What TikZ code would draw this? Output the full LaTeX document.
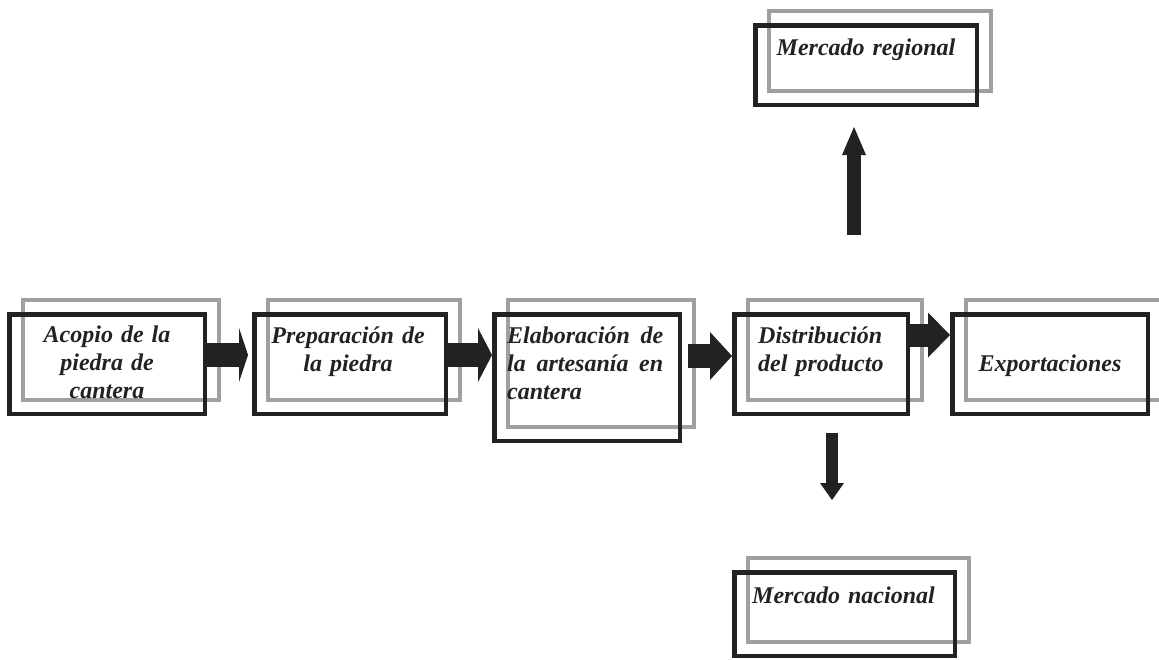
\documentclass[tikz,border=0pt]{standalone}
\usepackage{fontspec}
\setmainfont{Liberation Serif}
\usepackage{tikz}
\usetikzlibrary{positioning}
\usetikzlibrary{arrows.meta, backgrounds}
\definecolor{ink}{RGB}{34,34,34}
\definecolor{shade}{RGB}{160,160,160}
\tikzstyle{box} = [draw=ink, line width=4.5pt, inner sep=0pt]
\tikzstyle{shadowbox} = [draw=shade, line width=4pt]
\tikzstyle{txt} = [inner sep=0pt, text=ink, font=\fontsize{24}{28}\selectfont\bfseries\itshape]
\tikzstyle{flow} = [draw=ink, line width=24pt]

\begin{document}
\begin{tikzpicture}[x=1pt,y=1pt]
	\useasboundingbox (0,0) rectangle (1159,-659);
	%Boxes
	\node[box, minimum width=195.5pt, minimum height=99.5pt] (acopio) at (107,-364) {};
	\node[box, minimum width=191.5pt, minimum height=99.5pt, right=45pt of acopio] (prep) {};
	\node[box, minimum width=185.5pt, minimum height=126.5pt, right=44pt of prep.north east, anchor=north west] (elab) {};
	\node[box, minimum width=173.5pt, minimum height=99.5pt, right=50pt of elab.north east, anchor=north west] (dist) {};
	\node[box, minimum width=195.5pt, minimum height=99.5pt, right=40pt of dist] (export) {};
	\node[box, minimum width=221.5pt, minimum height=79.5pt, above=205pt of dist, xshift=45pt] (regional) {};
	\node[box, minimum width=220.5pt, minimum height=83.5pt, below=154pt of dist, xshift=23.5pt] (nacional) {};

	%Gray frames behind
	\begin{scope}[on background layer]
		\foreach \n in {acopio,prep,elab,dist,export,regional,nacional}
			\draw[shadowbox] ([shift={(16,16)}]\n.south west) rectangle ([shift={(12,12)}]\n.north east);
	\end{scope}

	%Texts
	\node[txt, text width=160pt, align=center, anchor=base] (tacopio) at ([yshift=-30pt]acopio.north) {Acopio de la\\piedra de\\cantera};
	\node[txt, text width=170pt, align=center, anchor=base] (tprep) at ([xshift=-2pt,yshift=-31pt]prep.north) {Preparación de\\la piedra};
	\node[txt, text width=156pt, align=left, anchor=base west] (telab) at ([xshift=15pt,yshift=-31pt]elab.north west) {Elaboración\hfill de\\la\hfill artesanía\hfill en\\cantera};
	\node[txt, text width=140pt, align=left, anchor=base west] (tdist) at ([xshift=26pt,yshift=-31pt]dist.north west) {Distribución\\del producto};
	\node[txt, text width=180pt, align=center, anchor=base] (texport) at ([yshift=-59pt]export.north) {Exportaciones};
	\node[txt, text width=200pt, align=center, anchor=base] (tregional) at ([yshift=-32pt]regional.north) {Mercado regional};
	\node[txt, text width=200pt, align=center, anchor=base] (tnacional) at ([xshift=-1pt,yshift=-33pt]nacional.north) {Mercado nacional};

	%Arrows
	\draw[flow, -{Triangle[length=9pt,width=54pt,line width=0pt]}, shorten >=4pt] ([yshift=9pt]acopio.east) -- ([yshift=9pt]prep.west);
	\draw[flow, -{Triangle[length=14pt,width=54pt,line width=0pt]}] ([yshift=9pt]prep.east) -- ([yshift=22.5pt]elab.west);
	\draw[flow, -{Triangle[length=22pt,width=48pt,line width=0pt]}, shorten <=6pt] ([yshift=21.5pt]elab.east) -- ([yshift=8pt]dist.west);
	\draw[flow, line width=23pt, -{Triangle[length=22pt,width=45pt,line width=0pt]}] ([yshift=29pt]dist.east) -- ([yshift=29pt]export.west);
	\draw[flow, line width=14pt, -{Triangle[length=28pt,width=24pt,line width=0pt]}, shorten <=77pt, shorten >=20pt] ([xshift=33pt]dist.north) -- ([xshift=-12pt]regional.south);
	\draw[flow, line width=12pt, -{Triangle[length=17pt,width=24pt,line width=0pt]}, shorten <=17pt, shorten >=70pt] ([xshift=11pt]dist.south) -- ([xshift=-12.5pt]nacional.north);
\end{tikzpicture}
\end{document}
